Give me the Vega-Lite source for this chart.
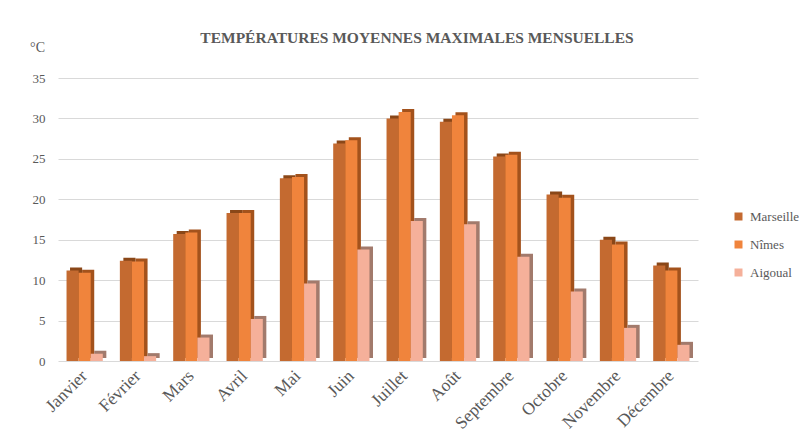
{
  "$schema": "https://vega.github.io/schema/vega-lite/v6.json",
  "width": 640,
  "height": 283,
  "autosize": "none",
  "padding": {"left": 58, "top": 78, "right": 101, "bottom": 71},
  "background": "white",
  "config": {"view": {"stroke": null}, "font": "Liberation Serif"},
  "title": {
    "text": "TEMPÉRATURES MOYENNES MAXIMALES MENSUELLES",
    "font": "Liberation Serif",
    "fontSize": 15.5,
    "fontWeight": "bold",
    "color": "#595959",
    "anchor": "middle",
    "frame": "group",
    "dx": 39,
    "offset": -6
  },
  "data": {
    "values": [
      {"mois": "Janvier", "station": "Marseille", "t": 11.2},
      {"mois": "Janvier", "station": "Nîmes", "t": 10.9},
      {"mois": "Janvier", "station": "Aigoual", "t": 0.9},
      {"mois": "Février", "station": "Marseille", "t": 12.4},
      {"mois": "Février", "station": "Nîmes", "t": 12.3},
      {"mois": "Février", "station": "Aigoual", "t": 0.6},
      {"mois": "Mars", "station": "Marseille", "t": 15.7},
      {"mois": "Mars", "station": "Nîmes", "t": 15.9},
      {"mois": "Mars", "station": "Aigoual", "t": 2.9},
      {"mois": "Avril", "station": "Marseille", "t": 18.3},
      {"mois": "Avril", "station": "Nîmes", "t": 18.3},
      {"mois": "Avril", "station": "Aigoual", "t": 5.2},
      {"mois": "Mai", "station": "Marseille", "t": 22.6},
      {"mois": "Mai", "station": "Nîmes", "t": 22.75},
      {"mois": "Mai", "station": "Aigoual", "t": 9.6},
      {"mois": "Juin", "station": "Marseille", "t": 26.9},
      {"mois": "Juin", "station": "Nîmes", "t": 27.3},
      {"mois": "Juin", "station": "Aigoual", "t": 13.8},
      {"mois": "Juillet", "station": "Marseille", "t": 30.0},
      {"mois": "Juillet", "station": "Nîmes", "t": 30.8},
      {"mois": "Juillet", "station": "Aigoual", "t": 17.3},
      {"mois": "Août", "station": "Marseille", "t": 29.6},
      {"mois": "Août", "station": "Nîmes", "t": 30.4},
      {"mois": "Août", "station": "Aigoual", "t": 16.9},
      {"mois": "Septembre", "station": "Marseille", "t": 25.3},
      {"mois": "Septembre", "station": "Nîmes", "t": 25.5},
      {"mois": "Septembre", "station": "Aigoual", "t": 12.9},
      {"mois": "Octobre", "station": "Marseille", "t": 20.6},
      {"mois": "Octobre", "station": "Nîmes", "t": 20.2},
      {"mois": "Octobre", "station": "Aigoual", "t": 8.6},
      {"mois": "Novembre", "station": "Marseille", "t": 15.0},
      {"mois": "Novembre", "station": "Nîmes", "t": 14.4},
      {"mois": "Novembre", "station": "Aigoual", "t": 4.1},
      {"mois": "Décembre", "station": "Marseille", "t": 11.8},
      {"mois": "Décembre", "station": "Nîmes", "t": 11.2},
      {"mois": "Décembre", "station": "Aigoual", "t": 2.0}
    ]
  },
  "encoding": {
    "x": {
      "field": "mois",
      "type": "nominal",
      "sort": ["Janvier","Février","Mars","Avril","Mai","Juin","Juillet","Août","Septembre","Octobre","Novembre","Décembre"],
      "scale": {"paddingInner": 0.32, "paddingOuter": 0.16},
      "axis": {
        "title": null,
        "labelAngle": -45,
        "labelAlign": "right",
        "labelBaseline": "middle",
        "labelFontSize": 17.5,
        "labelColor": "#595959",
        "labelFont": "Liberation Serif",
        "labelPadding": 12,
        "ticks": false,
        "domain": false,
        "labelLimit": 0
      }
    },
    "y": {
      "field": "t",
      "type": "quantitative",
      "scale": {"domain": [0, 35]},
      "axis": {
        "title": "°C",
        "titleAngle": 0,
        "titleX": -21,
        "titleY": -31,
        "titleAlign": "center",
        "titleBaseline": "middle",
        "titleFont": "Liberation Serif",
        "titleFontWeight": "normal",
        "titleFontSize": 14,
        "titleColor": "#595959",
        "values": [0,5,10,15,20,25,30,35],
        "labelFontSize": 13,
        "labelColor": "#595959",
        "labelFont": "Liberation Serif",
        "labelPadding": 13,
        "ticks": false,
        "domain": false,
        "gridColor": "#D9D9D9",
        "gridWidth": 1.2
      }
    }
  },
  "layer": [
    {
      "mark": {"type": "bar", "yOffset": -3},
      "encoding": {
        "xOffset": {
          "field": "station",
          "type": "nominal",
          "sort": ["Marseille","Nîmes","Aigoual"],
          "scale": {"paddingInner": 0, "paddingOuter": 0, "range": [3.5, 39.8]}
        },
        "color": {
          "field": "station",
          "type": "nominal",
          "sort": ["Marseille","Nîmes","Aigoual"],
          "scale": {"domain": ["Marseille","Nîmes","Aigoual"], "range": ["#8A4718", "#A3521C", "#A27A6C"]},
          "legend": null
        }
      }
    },
    {
      "mark": {"type": "bar"},
      "encoding": {
        "xOffset": {
          "field": "station",
          "type": "nominal",
          "sort": ["Marseille","Nîmes","Aigoual"],
          "scale": {"paddingInner": 0, "paddingOuter": 0}
        },
        "color": {
          "field": "station",
          "type": "nominal",
          "sort": ["Marseille","Nîmes","Aigoual"],
          "scale": {"domain": ["Marseille","Nîmes","Aigoual"], "range": ["#C46A30", "#F0843C", "#F5B09A"]},
          "legend": {
            "title": null,
            "orient": "none",
            "legendX": 674,
            "legendY": 132,
            "padding": 0,
            "symbolType": "square",
            "symbolSize": 64,
            "symbolStrokeWidth": 0,
            "labelFontSize": 13,
            "labelFont": "Liberation Serif",
            "labelColor": "#595959",
            "labelOffset": 5,
            "rowPadding": 14,
            "labelLimit": 0
          }
        }
      }
    }
  ],
  "resolve": {"scale": {"color": "independent", "xOffset": "independent"}, "legend": {"color": "independent"}}
}
